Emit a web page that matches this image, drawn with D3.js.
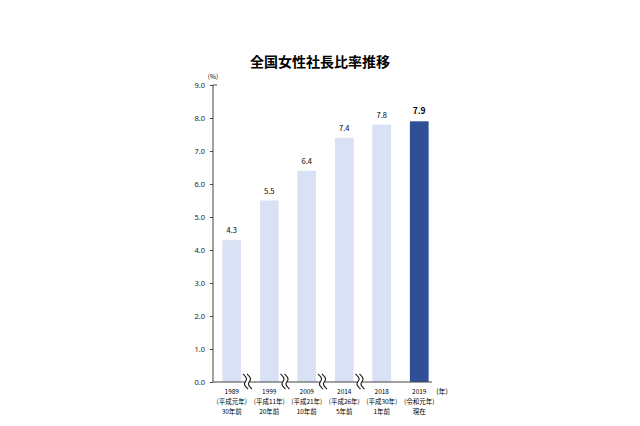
<!DOCTYPE html>
<html>
<head>
<meta charset="utf-8">
<script src="https://cdn.jsdelivr.net/npm/d3@7"></script>
<style>
  body { margin: 0; background: #fff; }
  text { font-family: "Noto Sans CJK JP", "Noto Sans", sans-serif; }
</style>
</head>
<body>
<div id="vis"></div>
<script>
// data
let years = ['1989', '1999', '2009', '2014', '2018', '2019']
let eras = ['(平成元年)', '(平成11年)', '(平成21年)', '(平成26年)', '(平成30年)', '(令和元年)']
let ago = ['30年前', '20年前', '10年前', '5年前', '1年前', '現在']
let rates = [4.3, 5.5, 6.4, 7.4, 7.8, 7.9]
let yTicks = [0, 1, 2, 3, 4, 5, 6, 7, 8, 9]

let width = 640, height = 426

let svg = d3.select('#vis')
  .append('svg')
  .attr('width', width)
  .attr('height', height)

let x = d3.scaleBand()
  .domain(years)
  .range([213, 438])
  .paddingInner(0.5)
  .paddingOuter(0.25)

let y = d3.scaleLinear()
  .domain([0, 9])
  .range([382, 85])

// title
svg.append('text')
  .attr('x', 320)
  .attr('y', 67)
  .attr('text-anchor', 'middle')
  .style('font-size', '14px')
  .style('font-weight', 'bold')
  .text('全国女性社長比率推移')

// bars
svg.selectAll('.bar')
  .data(rates)
  .join('rect')
  .attr('x', (d, i) => x(years[i]))
  .attr('y', d => y(d))
  .attr('width', x.bandwidth())
  .attr('height', d => y(0) - y(d))
  .attr('fill', (d, i) => i == rates.length - 1 ? '#2f4f97' : '#d9e2f4')

// value labels
svg.selectAll('.val')
  .data(rates)
  .join('text')
  .attr('x', (d, i) => x(years[i]) + x.bandwidth() / 2)
  .attr('y', d => y(d) - 7)
  .attr('text-anchor', 'middle')
  .style('font-size', (d, i) => i == rates.length - 1 ? '8.5px' : '7.5px')
  .style('font-weight', (d, i) => i == rates.length - 1 ? 'bold' : 'normal')
  .text(d => d.toFixed(1))

// y axis
let yAxis = d3.axisLeft(y)
  .tickValues(yTicks)
  .tickSize(3)
  .tickFormat(d => d.toFixed(1))

let gy = svg.append('g')
  .attr('transform', 'translate(213,0)')
  .call(yAxis)
gy.select('.domain').remove()
gy.selectAll('.tick line').attr('stroke', '#444')
gy.selectAll('.tick text')
  .attr('x', -8)
  .style('font-size', '7.5px')
  .style('font-family', '"Noto Sans", sans-serif')
  .attr('fill', '#222')

svg.append('line')
  .attr('x1', 213).attr('x2', 213)
  .attr('y1', y(9)).attr('y2', y(0))
  .attr('stroke', '#444')
svg.append('line')
  .attr('x1', 213).attr('x2', 217)
  .attr('y1', y(9)).attr('y2', y(9))
  .attr('stroke', '#444')

// x axis line
svg.append('line')
  .attr('x1', 213).attr('x2', 432)
  .attr('y1', y(0)).attr('y2', y(0))
  .attr('stroke', '#444')

svg.append('text')
  .attr('x', 213).attr('y', 79)
  .attr('text-anchor', 'middle')
  .style('font-size', '6.5px')
  .text('(%)')

svg.append('text')
  .attr('x', 442).attr('y', 394)
  .attr('text-anchor', 'middle')
  .style('font-size', '7px')
  .text('(年)')

// break marks between bars
let breaks = years.slice(0, 4)
let wave = d3.line().curve(d3.curveBasis)
breaks.forEach(yr => {
  let cx = x(yr) + x.bandwidth() + x.step() * 0.25 - 3
  svg.append('rect')
    .attr('x', cx - 2).attr('y', y(0) - 2)
    .attr('width', 4).attr('height', 4)
    .attr('fill', '#fff')
  ;[-2, 2].forEach(dx => {
    svg.append('path')
      .attr('d', wave([
        [cx + dx - 2.5, y(0) - 8],
        [cx + dx + 3, y(0) - 3],
        [cx + dx - 3, y(0) + 2],
        [cx + dx + 2.5, y(0) + 7]
      ]))
      .attr('fill', 'none')
      .attr('stroke', '#222')
      .attr('stroke-width', 1.2)
  })
})

// category labels
let labelRows = [years, eras, ago]
labelRows.forEach((row, r) => {
  svg.selectAll('.lab' + r)
    .data(row)
    .join('text')
    .attr('x', (d, i) => x(years[i]) + x.bandwidth() / 2)
    .attr('y', 394 + r * 10)
    .attr('text-anchor', 'middle')
    .style('font-size', '6.5px')
    .text(d => d)
})
</script>
</body>
</html>
